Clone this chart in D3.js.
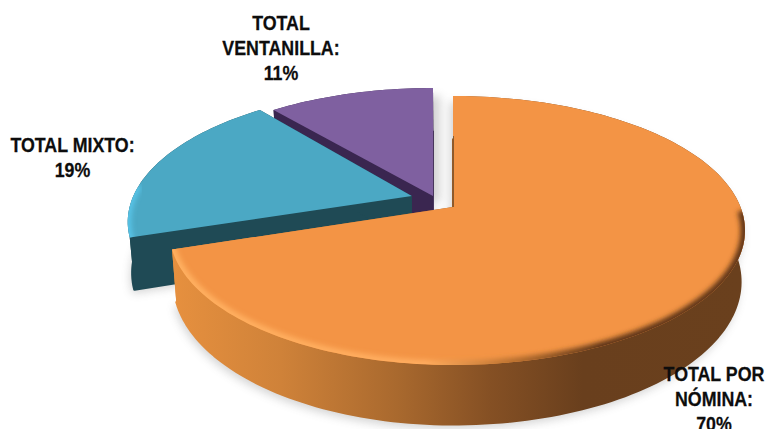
<!DOCTYPE html>
<html><head><meta charset="utf-8">
<script src="https://cdn.jsdelivr.net/npm/d3@7"></script>
<style>html,body{margin:0;padding:0;background:#fff}svg{display:block}
text{font-family:"Liberation Sans",Arial,sans-serif;font-weight:700;font-size:20px;fill:#0d0d0d;stroke:#0d0d0d;stroke-width:.25px;text-anchor:middle}</style>
</head><body><svg id="c" width="765" height="429"></svg>
<script>
const categories = ["TOTAL POR NÓMINA","TOTAL MIXTO","TOTAL VENTANILLA"];
const shares = [70,19,11];
const labelLines = [["TOTAL POR","NÓMINA:","70%"],["TOTAL MIXTO:","19%"],["TOTAL","VENTANILLA:","11%"]];
const labelAnchors = [[714,381],[72.5,152],[281,30]];
const topColors = ["#F39445","#4BA8C4","#7F60A0"];
const wallColors = ["url(#oWall)","#1F4A55","#3A2650"];
const explode = [[0,0],[-0.148,-0.085],[0,-0.085]];
const shiftX = [0,0,-20];
const leftSqueeze = [0.972,0.983,1];
const lowRound = [2,3,1];

const W=765,H=429,svg=d3.select("#c");
const cx=453,cy=207,a=287.5,b=130.4,k=0.1747;
const X=d3.scaleLinear().domain([-1,1]).range([cx-a,cx+a]);
const Y=d3.scaleLinear().domain([-1,1]).range([cy-b,cy+b]);
function proj(u,v,low,i){
  const d=1-k*v;
  let x=X(u/d), y=Y(v/d);
  if(x<cx) x=cx+(x-cx)*leftSqueeze[i];
  x+=shiftX[i];
  return low ? [cx+(x-cx)*0.985, cy+50+(y-cy)*1.06] : [x,y];
}
const pie=d3.pie().sort(null).value(d=>d)(shares);
const line=d3.line();
function arcPts(i,t0,t1,low){
  const [u0,v0]=explode[i], n=Math.max(4,Math.ceil((t1-t0)*40));
  return d3.range(n+1).map(j=>{const t=t0+(t1-t0)*j/n;return proj(u0+Math.sin(t),v0-Math.cos(t),low,i);});
}
const apex=(i,low)=>proj(explode[i][0],explode[i][1],low,i);
const defs=svg.append("defs");
const grad=(id,stops)=>{const g=defs.append("linearGradient").attr("id",id).attr("gradientUnits","userSpaceOnUse")
  .attr("x1",165).attr("x2",745).attr("y1",0).attr("y2",0);
  stops.forEach(s=>g.append("stop").attr("offset",s[0]).attr("stop-color",s[1]));};
grad("oWall",[[0,"#E8913F"],[0.2,"#CF8239"],[0.4,"#A9692E"],[0.56,"#855024"],[0.72,"#693F1D"],[1,"#6A401D"]]);
grad("oBevel",[[0,"#FFB060"],[0.45,"#FFAC5E"],[0.6,"#B9702F"],[0.75,"#5E3517"],[1,"#5E3517"]]);
const blur=(id,s)=>defs.append("filter").attr("id",id).attr("x","-20%").attr("y","-20%").attr("width","140%").attr("height","140%")
  .append("feGaussianBlur").attr("stdDeviation",s);
blur("sh",5);blur("bv",2.6);

const slices=pie.map((p,i)=>({i,p,
  top:[apex(i,false),...arcPts(i,p.startAngle,p.endAngle,false)],
  low:[apex(i,true),...arcPts(i,p.startAngle,p.endAngle,true)]}));

// drop shadow
const shadow=svg.append("g").attr("filter","url(#sh)").attr("opacity",0.26);
slices.forEach(s=>shadow.append("path").attr("d",line(s.low)+"Z").attr("fill","#555").attr("transform","translate(-2,4)"));
shadow.append("path").attr("d",line(slices[2].top)+"Z").attr("fill","#555").attr("transform","translate(7,8)");
shadow.append("path").attr("d",line(slices[0].top)+"Z").attr("fill","#555").attr("transform","translate(-3,6)");

// walls, back slices first
[2,1,0].forEach(i=>{
  const s=slices[i],c=wallColors[i],g=svg.append("g").attr("fill",c);
  g.append("path").attr("d",line(s.low)+"Z").attr("stroke",c).attr("stroke-width",lowRound[i]).attr("stroke-linejoin","round");
  const t=s.top.slice(1),l=s.low.slice(1);
  g.append("path").attr("d",line([...t,...l.slice().reverse()])+"Z");
  g.append("path").attr("d",line([s.top[0],t[0],l[0],s.low[0]])+"Z");
  g.append("path").attr("d",line([s.top[0],t[t.length-1],l[l.length-1],s.low[0]])+"Z");
});
// tops, back first so the front slice overlaps
[2,1,0].forEach(i=>{
  const s=slices[i];
  svg.append("path").attr("d",line(s.top)+"Z").attr("fill",topColors[i]);
  const id="clip"+i;
  defs.append("clipPath").attr("id",id).append("path").attr("d",line(s.top)+"Z");
  if(i===0){
    svg.append("g").attr("clip-path",`url(#${id})`).append("path")
      .attr("d",line(arcPts(0,1.6,s.p.endAngle+0.05,false))).attr("fill","none")
      .attr("stroke","url(#oBevel)").attr("stroke-width",9).attr("filter","url(#bv)");
    const t=s.top;
    svg.append("path").attr("d",line([[t[0][0]+0.5,t[0][1]],[t[1][0]+0.5,t[1][1]+40]])).attr("stroke","#8A5A2C").attr("stroke-width",1).attr("fill","none");
  }
  if(i===1){
    svg.append("g").attr("clip-path",`url(#${id})`).append("path")
      .attr("d",line(arcPts(1,s.p.startAngle-0.05,s.p.startAngle+0.4,false))).attr("fill","none")
      .attr("stroke","#58C4E8").attr("stroke-width",7).attr("filter","url(#bv)");
  }
});
// labels
labelLines.forEach((ls,i)=>{
  const ax=labelAnchors[i][0], ay=labelAnchors[i][1];
  const g=svg.append("g").attr("transform",`translate(${ax},0) scale(0.89,1)`).attr("aria-label",categories[i]);
  ls.forEach((l,j)=>g.append("text").attr("x",0).attr("y",ay+j*25).text(l));
});
</script></body></html>
